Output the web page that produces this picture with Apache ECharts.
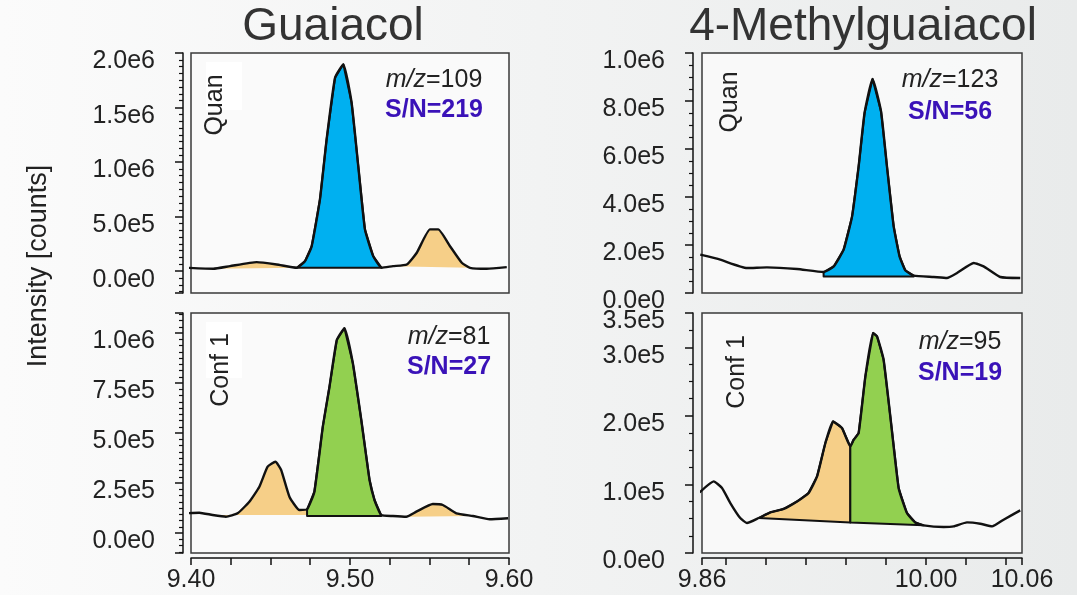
<!DOCTYPE html>
<html>
<head>
<meta charset="utf-8">
<script src="https://cdn.jsdelivr.net/npm/echarts@6/dist/echarts.min.js"></script>
<style>html,body{margin:0;padding:0;}#c{width:1077px;height:595px;}</style>
</head>
<body>
<div id="c"></div>
<script>
// ---- data (retention time [min], intensity [counts]) ----
const guaiacolQuan = [
  [9.3973,31000],[9.414,22000],[9.4245,46000],[9.4413,83000],[9.4539,61000],[9.4665,31000],
  [9.4717,92000],[9.4759,229000],[9.4811,658000],[9.4853,1208000],[9.4906,1774000],[9.4958,1896000],
  [9.501,1545000],[9.5052,963000],[9.5094,383000],[9.5146,138000],[9.5199,31000],[9.527,46000],
  [9.5357,61000],[9.542,169000],[9.5503,383000],[9.5555,383000],[9.5629,229000],[9.5703,77000],
  [9.5755,31000],[9.586,22000],[9.5986,37000]
];
const guaiacolConf = [
  [9.3969,98500],[9.4052,101500],[9.4136,90000],[9.422,81500],[9.4293,98500],[9.4367,156500],
  [9.443,231500],[9.4482,331500],[9.4531,356500],[9.4567,315000],[9.4619,181500],[9.4682,115000],
  [9.473,118500],[9.4776,206500],[9.4829,531500],[9.4871,731500],[9.4917,965000],[9.4965,1023500],
  [9.5018,848500],[9.5071,565000],[9.5123,265000],[9.5154,165000],[9.5196,90000],[9.527,85000],
  [9.5354,81500],[9.5417,106500],[9.5521,145000],[9.5584,140000],[9.5669,98500],[9.5773,85000],
  [9.5878,68500],[9.5994,73500]
];
const methylQuan = [
  [9.8589,159600],[9.8714,138800],[9.8881,104200],[9.9006,106700],[9.9194,100000],[9.936,87500],
  [9.9423,110800],[9.9485,180400],[9.9538,319200],[9.9579,527500],[9.9616,750000],[9.9666,891700],
  [9.9719,756700],[9.9756,527500],[9.9798,277500],[9.9835,152500],[9.9871,94200],[9.9923,72100],
  [10.0048,66700],[10.0131,62500],[10.0194,83300],[10.0298,125000],[10.036,110800],[10.0464,66700],
  [10.0589,62500]
];
const methylConf = [
  [9.8585,88400],[9.8673,104400],[9.8725,94800],[9.8777,72900],[9.8839,51000],[9.8881,43700],
  [9.8954,51000],[9.9027,59200],[9.911,64200],[9.9194,75200],[9.9266,87500],[9.9319,111700],
  [9.9371,160400],[9.9419,191900],[9.9475,182300],[9.9527,155500],[9.9548,165200],[9.9579,175000],
  [9.9621,257500],[9.9669,320800],[9.9694,315900],[9.9735,281900],[9.9777,199200],[9.9829,94800],
  [9.9881,58300],[9.9933,44600],[9.9985,40300],[10.011,37900],[10.0173,38800],[10.0256,44600],
  [10.0339,42700],[10.0413,38800],[10.0485,48600],[10.0589,62100]
];
// integrated areas: [from, to, baseline at from, baseline at to, kind, outlined]
const guaiacolQuanAreas = [[9.414,9.4665,22000,31000,'other',0],[9.4665,9.5199,31000,31000,'target',1],[9.527,9.5755,46000,31000,'other',0]];
const guaiacolConfAreas = [[9.4136,9.473,90000,90000,'other',0],[9.473,9.5196,85000,85000,'target',1],[9.5354,9.5773,81500,85000,'other',0]];
const methylQuanAreas = [[9.936,9.9923,69200,69200,'target',1]];
const methylConfAreas = [[9.8954,9.9527,51000,44600,'other',1],[9.9527,9.9985,44600,40300,'target',1]];

const compounds = ['Guaiacol','4-Methylguaiacol'];
const traceNames = ['Quan','Conf 1'];
const mzValues = ['109','81','123','95'];
const snValues = ['219','27','56','19'];
const xRanges = [[9.40,9.60],[9.86,10.06]];
const xTickStep = 0.025;
const xLabelValues = [[9.40,9.50,9.60],[9.86,10.00,10.06]];
const yRanges = [[-200000,2000000],[-100000,1100000],[0,1000000],[0,350000]];
const yTickSteps = [500000,250000,200000,100000];
const yMinorSplits = [8,8,4,4];
const yAxisTitle = 'Intensity [counts]';

// ---- chart ----
const FONT = '"Liberation Sans", Arial, sans-serif';
const panels = [
  {curve: guaiacolQuan, areas: guaiacolQuanAreas, col: 0, row: 0},
  {curve: guaiacolConf, areas: guaiacolConfAreas, col: 0, row: 1},
  {curve: methylQuan,   areas: methylQuanAreas,   col: 1, row: 0},
  {curve: methylConf,   areas: methylConfAreas,   col: 1, row: 1}
];
const gridBoxes = [
  {left:191, top:53, width:318, height:240},
  {left:191, top:313, width:318, height:240},
  {left:702, top:53, width:320, height:240},
  {left:702, top:313, width:320, height:240}
];
const fillColors = {quanTarget:'#00b0f0', confTarget:'#92d050', other:'#f6cf88'};

function sci(v){ return v.toExponential(1).replace('e+','e'); }

const grid = gridBoxes.map(g => Object.assign({show:true, borderColor:'#3a3a3a', borderWidth:1.5, backgroundColor:'rgba(250,250,250,0.85)'}, g));

const xAxis = panels.map((p,i) => {
  const r = xRanges[p.col];
  const bottom = p.row === 1;
  return {
    type:'value', gridIndex:i, min:r[0], max:r[1], minInterval:xTickStep, maxInterval:xTickStep,
    offset: 5, splitLine:{show:false},
    axisLine:{show:bottom, onZero:false, lineStyle:{color:'#111', width:1.5}},
    axisTick:{show:bottom, length:7, lineStyle:{color:'#111', width:1.5}},
    axisLabel:{show:bottom, fontSize:25, color:'#222', fontFamily:FONT, margin:10,
      showMinLabel:true, showMaxLabel:true,
      formatter: v => xLabelValues[p.col].some(t => Math.abs(t - v) < 1e-6) ? v.toFixed(2) : ''}
  };
});

const yAxis = panels.map((p,i) => {
  const r = yRanges[i], st = yTickSteps[i];
  return {
    type:'value', gridIndex:i, min:r[0], max:r[1], minInterval:st, maxInterval:st,
    offset: p.col === 0 ? 8 : 9, splitLine:{show:false},
    axisLine:{show:true, onZero:false, lineStyle:{color:'#111', width:1.5}},
    axisTick:{show:true, length:8, lineStyle:{color:'#111', width:1.5}},
    minorTick:{show:true, splitNumber:yMinorSplits[i], length:4, lineStyle:{color:'#111', width:1.2}},
    axisLabel:{fontSize:25, color:'#222', fontFamily:FONT, margin:28,
      verticalAlign:'top', lineHeight:17,
      showMinLabel:true, showMaxLabel:true,
      formatter: v => {
        if (v < 0) return '';
        if (i < 2 && Math.abs(v/st - Math.round(v/st)) > 1e-6) return '';
        return sci(v);
      }}
  };
});

const series = [];
panels.forEach((p,i) => {
  const targetColor = p.row === 0 ? fillColors.quanTarget : fillColors.confTarget;
  series.push({
    type:'custom', xAxisIndex:i, yAxisIndex:i, coordinateSystem:'cartesian2d', clip:false, silent:true, z:2,
    data: p.areas.map(a => [a[0], a[2]]),
    renderItem: (params, api) => {
      const a = p.areas[params.dataIndex];
      const pts = [api.coord([a[0], a[2]])];
      p.curve.forEach(pt => { if (pt[0] >= a[0] - 1e-9 && pt[0] <= a[1] + 1e-9) pts.push(api.coord(pt)); });
      pts.push(api.coord([a[1], a[3]]));
      return {type:'polygon', shape:{points:pts},
        style:{fill: a[4] === 'target' ? targetColor : fillColors.other,
               stroke: a[5] ? '#111' : null, lineWidth: 2, lineJoin:'round'}};
    }
  });
  series.push({
    type:'line', xAxisIndex:i, yAxisIndex:i, data:p.curve, showSymbol:false, clip:false, silent:true, z:3,
    smooth:0.15, lineStyle:{color:'#111', width:2.4}
  });
});

// annotation texts
const graphic = [];
graphic.push({type:'text', x:333, y:27, style:{text:compounds[0], font:'46px '+FONT, fill:'#333', textAlign:'center', textVerticalAlign:'middle'}});
graphic.push({type:'text', x:863, y:27, style:{text:compounds[1], font:'46px '+FONT, fill:'#333', textAlign:'center', textVerticalAlign:'middle'}});
graphic.push({type:'text', x:39, y:266, rotation:Math.PI/2, style:{text:yAxisTitle, font:'27px '+FONT, fill:'#222', textAlign:'center', textVerticalAlign:'middle'}});
const traceLabelPos = [[215,105],[221,370],[730,102],[737,372]];
const whiteBoxes = [[206,62,36,48],[206,322,36,56]];
whiteBoxes.forEach(b => graphic.push({type:'rect', shape:{x:b[0], y:b[1], width:b[2], height:b[3]}, style:{fill:'#ffffff'}}));
const annoPos = [[434,80,110],[449,337,367],[950,80,112],[960,342,373]];
panels.forEach((p,i) => {
  graphic.push({type:'text', x:traceLabelPos[i][0], y:traceLabelPos[i][1], rotation:Math.PI/2,
    style:{text:traceNames[p.row], font:'25px '+FONT, fill:'#222', textAlign:'center', textVerticalAlign:'middle'}});
  graphic.push({type:'text', x:annoPos[i][0], y:annoPos[i][1],
    style:{text:'{i|m/z}{n|=' + mzValues[i] + '}', textAlign:'center', textVerticalAlign:'middle',
      rich:{i:{font:'italic 25px '+FONT, fill:'#222'}, n:{font:'25px '+FONT, fill:'#222'}}}});
  graphic.push({type:'text', x:annoPos[i][0], y:annoPos[i][2],
    style:{text:'S/N=' + snValues[i], font:'bold 25px '+FONT, fill:'#3a12b8', textAlign:'center', textVerticalAlign:'middle'}});
});

const chart = echarts.init(document.getElementById('c'), null, {renderer:'canvas'});
chart.setOption({
  animation:false,
  backgroundColor:{type:'linear', x:0, y:0, x2:1, y2:0, colorStops:[{offset:0,color:'#fbfbfb'},{offset:1,color:'#e9ebeb'}]},
  grid, xAxis, yAxis, series, graphic
});
</script>
</body>
</html>
